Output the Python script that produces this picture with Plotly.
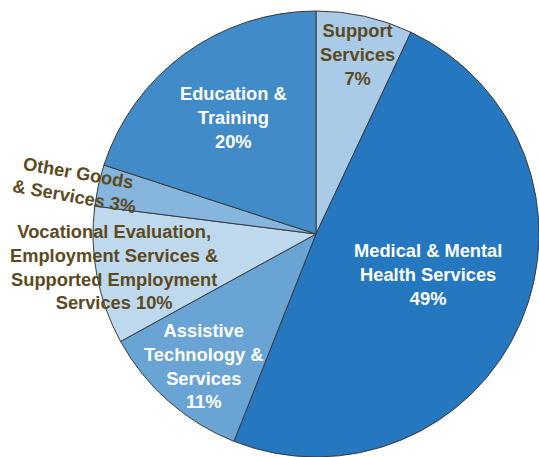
import plotly.graph_objects as go

categories = [
    "Support Services",
    "Medical & Mental Health Services",
    "Assistive Technology & Services",
    "Vocational Evaluation, Employment Services & Supported Employment Services",
    "Other Goods & Services",
    "Education & Training",
]
values = [7, 49, 11, 10, 3, 20]
label_texts = [
    "Support<br>Services<br>7%",
    "Medical & Mental<br>Health Services<br>49%",
    "Assistive<br>Technology &<br>Services<br>11%",
    "Vocational Evaluation,<br>Employment Services &<br>Supported Employment<br>Services 10%",
    "Other Goods<br>& Services 3%",
    "Education &<br>Training<br>20%",
]
colors = ["#a9cbe7", "#2577bf", "#69a4d4", "#bed9ee", "#86b5de", "#408bc8"]

W, H = 539, 457
BROWN = "#5c4a1e"

fig = go.Figure(go.Pie(
    labels=categories,
    values=values,
    sort=False,
    direction="clockwise",
    rotation=0,
    textinfo="none",
    hoverinfo="label+percent",
    marker=dict(colors=colors, line=dict(color="#3a3a3a", width=1)),
    domain=dict(x=[93 / W, 1], y=[0, (H - 11) / H]),
    showlegend=False,
))

# label placement (pixel positions of label centers), colour, angle
label_pos = [
    (357, 55, BROWN, 0),
    (428, 274, "white", 0),
    (204, 366, "white", 0),
    (114, 267, BROWN, 0),
    (76, 184, BROWN, 10),
    (233, 117, "white", 0),
]

for txt, (px, py, col, ang) in zip(label_texts, label_pos):
    fig.add_annotation(
        x=px / W, y=1 - py / H, xref="paper", yref="paper",
        text="<b>" + txt + "</b>", showarrow=False,
        xanchor="center", yanchor="middle", align="center",
        textangle=ang,
        font=dict(family="Liberation Sans, Arial, sans-serif", size=18.3, color=col),
    )

fig.update_layout(
    width=W, height=H,
    margin=dict(l=0, r=0, t=0, b=0),
    paper_bgcolor="white",
    plot_bgcolor="white",
)

fig.write_html("out.html")
